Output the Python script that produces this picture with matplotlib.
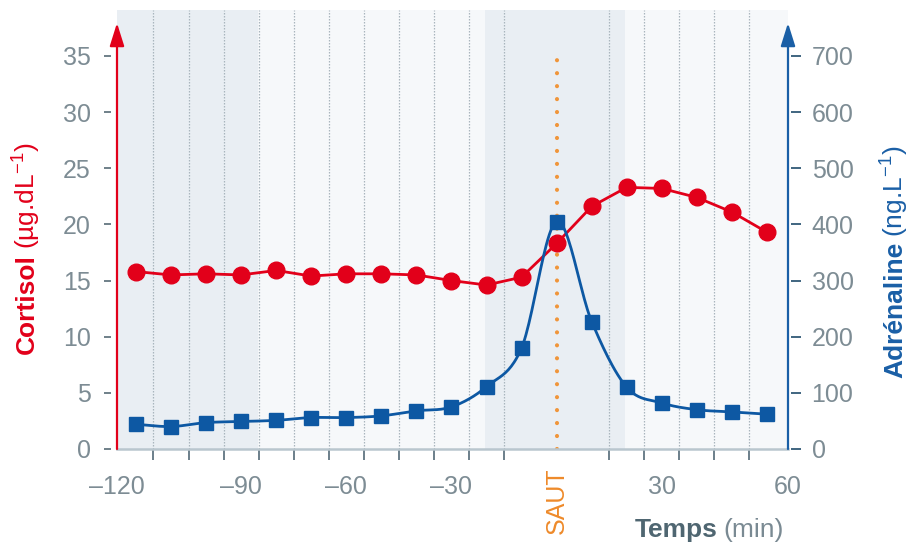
import numpy as np
import matplotlib
matplotlib.use("Agg")
import matplotlib.pyplot as plt
from matplotlib import font_manager as fm

# ---------------- data ----------------
times = [-120, -110, -100, -90, -80, -70, -60, -50, -40, -30, -20, -10, 0, 10, 20, 30, 40, 50, 60]
cortisol = [15.8, 15.5, 15.6, 15.5, 15.9, 15.4, 15.6, 15.6, 15.5, 15.0, 14.6, 15.3,
            18.3, 21.6, 23.3, 23.2, 22.4, 21.1, 19.3]
adrenaline = [44, 40, 47, 49, 51, 56, 56, 59, 68, 75, 111, 180, 405, 227, 110, 82, 70, 66, 62]
cortisol_ticks = [0, 5, 10, 15, 20, 25, 30, 35]
adrenaline_ticks = [0, 100, 200, 300, 400, 500, 600, 700]
x_label_values = [-90, -60, -30, 30]
x_label_texts = ["–90", "–60", "–30", "30"]
x_end_labels = ["–120", "60"]
boundaries = [-115, -105, -95, -85, -75, -65, -55, -45, -35, -25, -15, 15, 25, 35, 45, 55]

# ---------------- style ----------------
names = {f.name for f in fm.fontManager.ttflist}
narrow = "Liberation Sans Narrow" if "Liberation Sans Narrow" in names else "Liberation Sans"
FAM_T = [narrow, "DejaVu Sans"]
FAM_L = ["Liberation Sans", "DejaVu Sans"]
plt.rcParams["mathtext.fontset"] = "custom"
plt.rcParams["mathtext.rm"] = "Liberation Sans"
plt.rcParams["mathtext.it"] = "Liberation Sans"
plt.rcParams["mathtext.bf"] = "Liberation Sans:bold"

RED = "#e2001a"
BLUE = "#0d58a3"
BLUE_LAB = "#1a5fa6"
GRAY = "#7d8c94"
ORANGE = "#ee8a2a"
SHADE = "#e9eef3"
LIGHT = "#f6f8fa"

W, H = 913, 547
fig = plt.figure(figsize=(W / 100, H / 100), dpi=100)
fig.patch.set_facecolor("white")

x0, x1, ytop, ybot = 117, 788, 10, 449
ax = fig.add_axes([x0 / W, 1 - ybot / H, (x1 - x0) / W, (ybot - ytop) / H])
ax2 = ax.twinx()

xmin, xmax = -125.4, 66.0
cmax = (ybot - ytop) / 11.23
ax.set_xlim(xmin, xmax)
ax.set_ylim(0, cmax)
ax2.set_ylim(0, cmax * 20)

ax.set_facecolor(LIGHT)
ax.axvspan(xmin, -85.2, color=SHADE, zorder=0, lw=0)
ax.axvspan(-20.5, 19.5, color=SHADE, zorder=0, lw=0)
for b in boundaries:
    ax.axvline(b, color="#a9b5bd", lw=0.9, ls=(0, (1.2, 1.2)), zorder=1)

# SAUT dotted line
ax.axvline(0, ymin=0, ymax=(ybot - 60) / (ybot - ytop), color="#f0953a", lw=3,
           ls=(0, (0.01, 3.1)), dash_capstyle="round", zorder=2)

# cortisol
ax.plot(times, cortisol, color=RED, lw=2, marker="o", ms=12, mec=RED, mfc=RED, zorder=4)

# adrenaline smooth line (Catmull-Rom through data points)
tx = np.asarray(times, float)
ty = np.asarray(adrenaline, float)
px = np.concatenate([[2 * tx[0] - tx[1]], tx, [2 * tx[-1] - tx[-2]]])
py = np.concatenate([[2 * ty[0] - ty[1]], ty, [2 * ty[-1] - ty[-2]]])
sx, sy = [], []
u = np.linspace(0, 1, 25)
for i in range(1, len(px) - 2):
    p0, p1, p2, p3 = px[i - 1], px[i], px[i + 1], px[i + 2]
    q0, q1, q2, q3 = py[i - 1], py[i], py[i + 1], py[i + 2]
    def cr(a0, a1, a2, a3):
        return 0.5 * ((2 * a1) + (-a0 + a2) * u + (2 * a0 - 5 * a1 + 4 * a2 - a3) * u ** 2
                      + (-a0 + 3 * a1 - 3 * a2 + a3) * u ** 3)
    sx.extend(cr(p0, p1, p2, p3))
    sy.extend(cr(q0, q1, q2, q3))
ax2.plot(sx, sy, color=BLUE, lw=2, zorder=3)
ax2.plot(times, adrenaline, ls="none", marker="s", ms=10.5, mfc=BLUE, mec=BLUE, zorder=4)

# ---------------- axes decoration ----------------
for s in ["top", "right", "left"]:
    ax.spines[s].set_visible(False)
for s in ["top", "right", "left", "bottom"]:
    ax2.spines[s].set_visible(False)
ax.spines["bottom"].set_color("#b9c6ce")
ax.spines["bottom"].set_linewidth(1.8)
ax.spines["left"].set_position(("outward", 4))
ax2.spines["right"].set_position(("outward", 2))

ax.set_yticks(cortisol_ticks)
ax.set_yticklabels([str(v) for v in cortisol_ticks], family=FAM_T, fontsize=18, color=GRAY)
ax.tick_params(axis="y", length=5, width=1.4, color="#6f8089", pad=10)

ax2.set_yticks(adrenaline_ticks)
ax2.set_yticklabels([str(v) for v in adrenaline_ticks], family=FAM_T, fontsize=18, color=GRAY)
ax2.tick_params(axis="y", length=7, width=1.4, color="#3f6580", pad=8)

ax.set_xticks([xmin] + x_label_values + [xmax])
ax.set_xticklabels([x_end_labels[0]] + x_label_texts + [x_end_labels[1]],
                   family=FAM_T, fontsize=18, color=GRAY)
ax.set_xticks(boundaries, minor=True)
ax.tick_params(axis="x", which="major", length=0, pad=19)
ax.tick_params(axis="x", which="minor", length=8, width=1.4, color="#6b7f8a")

ax.annotate("SAUT", xy=(0, 0), xycoords=("data", "axes fraction"), xytext=(0, -13),
            textcoords="offset points", rotation=90, ha="center", va="top",
            fontsize=18, family=FAM_T, color=ORANGE)

# arrow axes
tip = (ybot - 23) / (ybot - ytop)
ax.annotate("", xy=(0, tip), xytext=(0, 0), xycoords="axes fraction",
            arrowprops=dict(arrowstyle="-|>,head_length=0.7,head_width=0.22", color=RED,
                            lw=1.6, shrinkA=0, shrinkB=0, mutation_scale=20), zorder=6)
ax2.annotate("", xy=(1, tip), xytext=(1, 0), xycoords="axes fraction",
             arrowprops=dict(arrowstyle="-|>,head_length=0.7,head_width=0.22", color=BLUE_LAB,
                             lw=1.6, shrinkA=0, shrinkB=0, mutation_scale=20), zorder=6)

# ---------------- axis titles ----------------
fig.canvas.draw()
rend = fig.canvas.get_renderer()

def chain(parts, x, y, rotation, color_list, size):
    """Place consecutive text pieces (bold/regular) one after another."""
    cur = (x, y)
    for (txt, weight), col in zip(parts, color_list):
        t = fig.text(cur[0] / W, 1 - cur[1] / H, txt, rotation=rotation, rotation_mode="anchor",
                     ha="left", va="center" if rotation else "baseline", fontsize=size,
                     fontweight=weight, family=FAM_L, color=col)
        bb = t.get_window_extent(rend)
        if rotation:
            cur = (cur[0], H - bb.y1 - 5)
        else:
            cur = (bb.x1 + 5, cur[1])

chain([("Cortisol", "bold"), ("(µg.dL$^{-1}$)", "normal")], 27, 354, 90, [RED, RED], 19)
chain([("Adrénaline", "bold"), ("(ng.L$^{-1}$)", "normal")], 895, 378, 90, [BLUE_LAB, BLUE_LAB], 19)
chain([("Temps", "bold"), ("(min)", "normal")], 635, 537, 0, ["#4f6671", "#7a8a93"], 19)

fig.savefig("out.png", dpi=100)
